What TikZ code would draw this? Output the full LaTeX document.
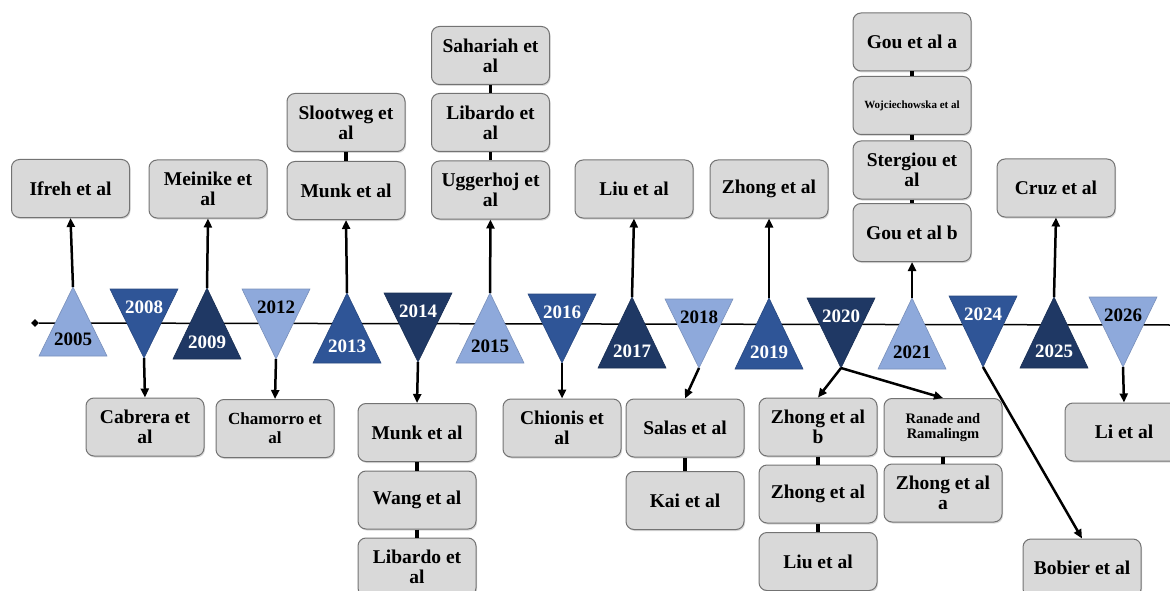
\documentclass[tikz,border=0pt]{standalone}
\usepackage{fontspec}
\setmainfont{Liberation Serif}
\usetikzlibrary{arrows.meta,shapes.geometric,shadows}
\definecolor{yrlight}{RGB}{142,169,219}
\definecolor{yrmid}{RGB}{47,85,151}
\definecolor{yrdark}{RGB}{31,56,100}
\definecolor{boxfill}{RGB}{217,217,217}
\definecolor{boxline}{RGB}{115,115,115}
\begin{document}
\begin{tikzpicture}[x=1pt, y=-1pt,
    paper/.style={draw=boxline, line width=1pt, fill=boxfill, rounded corners=8pt, minimum width=118pt, minimum height=58pt,
        align=center, inner sep=2pt, font=\bfseries\fontsize{19.5}{20}\selectfont,
        drop shadow={shadow xshift=1pt, shadow yshift=-1.5pt, opacity=0.3}},
    link/.style={line width=3.5pt},
    cite/.style={line width=2.5pt, -{Triangle[length=9pt,width=8pt]}},
    year/.style={font=\bfseries\fontsize{19}{19}\selectfont}]
    \useasboundingbox (0,0) rectangle (1170,591);
    \clip (0,0) rectangle (1170,591);
    \node[diamond, fill=black, inner sep=0pt, minimum size=8pt] (start) at (35,323) {};
    \coordinate (end) at (1170,325);
    \draw[line width=1.5pt] (start) -- (end);
    \foreach \x/\t/\b/\c/\f/\yr in {73/287/356/yrlight/black/2005, 207/288/359/yrdark/white/2009, 347/293/363/yrmid/white/2013,
        490/293/363/yrlight/black/2015, 632/297/368/yrdark/white/2017, 769/298/369/yrmid/white/2019,
        912/298/369/yrlight/black/2021, 1054/297/368/yrdark/white/2025} {
        \filldraw[fill=\c, draw=\c!85!black, line width=0.6pt] (\x-34,\b) -- (\x,\t) -- (\x+34,\b) -- cycle;
        \node[year, text=\f] at (\x,\b-17) {\yr};
        \coordinate (y\yr) at (\x,\t);
    }
    \foreach \x/\t/\b/\c/\f/\yr in {144/289/358/yrmid/white/2008, 276/289/359/yrlight/black/2012, 418/293/362/yrdark/white/2014,
        562/294/363/yrmid/white/2016, 699/299/368/yrlight/black/2018, 841/298/368/yrdark/white/2020,
        983/296/367/yrmid/white/2024, 1123/297/367/yrlight/black/2026} {
        \filldraw[fill=\c, draw=\c!85!black, line width=0.6pt] (\x-34,\t) -- (\x+34,\t) -- (\x,\b) -- cycle;
        \node[year, text=\f] at (\x,\t+18) {\yr};
        \coordinate (y\yr) at (\x,\b);
    }
    \node[paper] (ifreh) at (70.5,188.5) {Ifreh et al};
    \node[paper] (meinike) at (208,189) {Meinike et\\al};
    \node[paper] (slootweg) at (346,122.5) {Slootweg et\\al};
    \node[paper] (munka) at (346,190.5) {Munk et al};
    \node[paper] (sahariah) at (490.5,55.5) {Sahariah et\\al};
    \node[paper] (libardoa) at (490.5,122.5) {Libardo et\\al};
    \node[paper] (uggerhoj) at (490.5,190) {Uggerhoj et\\al};
    \node[paper] (liua) at (634,189) {Liu et al};
    \node[paper] (zhonga) at (769,189) {Zhong et al};
    \node[paper] (goua) at (912,42) {Gou et al a};
    \node[paper, font=\bfseries\fontsize{11}{12}\selectfont] (wojc) at (912,105.5) {Wojciechowska et al};
    \node[paper] (stergiou) at (912,170) {Stergiou et\\al};
    \node[paper] (goub) at (912,232.5) {Gou et al b};
    \node[paper] (cruz) at (1056,188) {Cruz et al};
    \node[paper] (cabrera) at (145,427) {Cabrera et\\al};
    \node[paper, font=\bfseries\fontsize{17}{19}\selectfont] (chamorro) at (275,428.5) {Chamorro et\\al};
    \node[paper] (munkb) at (417,432.5) {Munk et al};
    \node[paper] (wang) at (417,500) {Wang et al};
    \node[paper] (libardob) at (417,567) {Libardo et\\al};
    \node[paper] (chionis) at (562,428) {Chionis et\\al};
    \node[paper] (salas) at (685,428) {Salas et al};
    \node[paper] (kai) at (685,500.5) {Kai et al};
    \node[paper] (zhongb) at (818,427) {Zhong et al\\b};
    \node[paper] (zhongc) at (818,494) {Zhong et al};
    \node[paper] (liub) at (818,561.5) {Liu et al};
    \node[paper, font=\bfseries\fontsize{14.5}{15}\selectfont] (ranade) at (943,427.5) {Ranade and\\Ramalingm};
    \node[paper] (zhongd) at (943,493) {Zhong et al\\a};
    \node[paper] (bobier) at (1082,568) {Bobier et al};
    \node[paper] (li) at (1124,432) {Li et al};
    \draw[link] (slootweg) -- (munka);
    \draw[link] (sahariah) -- (libardoa) -- (uggerhoj);
    \draw[link] (goua) -- (wojc) -- (stergiou) -- (goub);
    \draw[link] (munkb) -- (wang) -- (libardob);
    \draw[link] (salas) -- (kai);
    \draw[link] (zhongb) -- (zhongc) -- (liub);
    \draw[link] (ranade) -- (zhongd);
    \draw[cite] (y2005) -- (ifreh.south);
    \draw[cite] (y2009) -- (meinike.south);
    \draw[cite] (y2013) -- (munka.south);
    \draw[cite] (y2015) -- (uggerhoj.south);
    \draw[cite] (y2017) -- (liua.south);
    \draw[cite] (y2019) -- (zhonga.south);
    \draw[cite] (y2021) -- (goub.south);
    \draw[cite] (y2025) -- (cruz.south);
    \draw[cite] (y2008) -- (cabrera.north);
    \draw[cite] (y2012) -- (chamorro.north);
    \draw[cite] (y2014) -- (munkb.north);
    \draw[cite] (y2016) -- (chionis.north);
    \draw[cite] (y2018) -- (salas.north);
    \draw[cite] (y2020) -- (zhongb.north);
    \draw[cite] (y2020) -- (ranade.north);
    \draw[cite] (y2024) -- (bobier.north);
    \draw[cite] (y2026) -- (li.north);
\end{tikzpicture}
\end{document}
